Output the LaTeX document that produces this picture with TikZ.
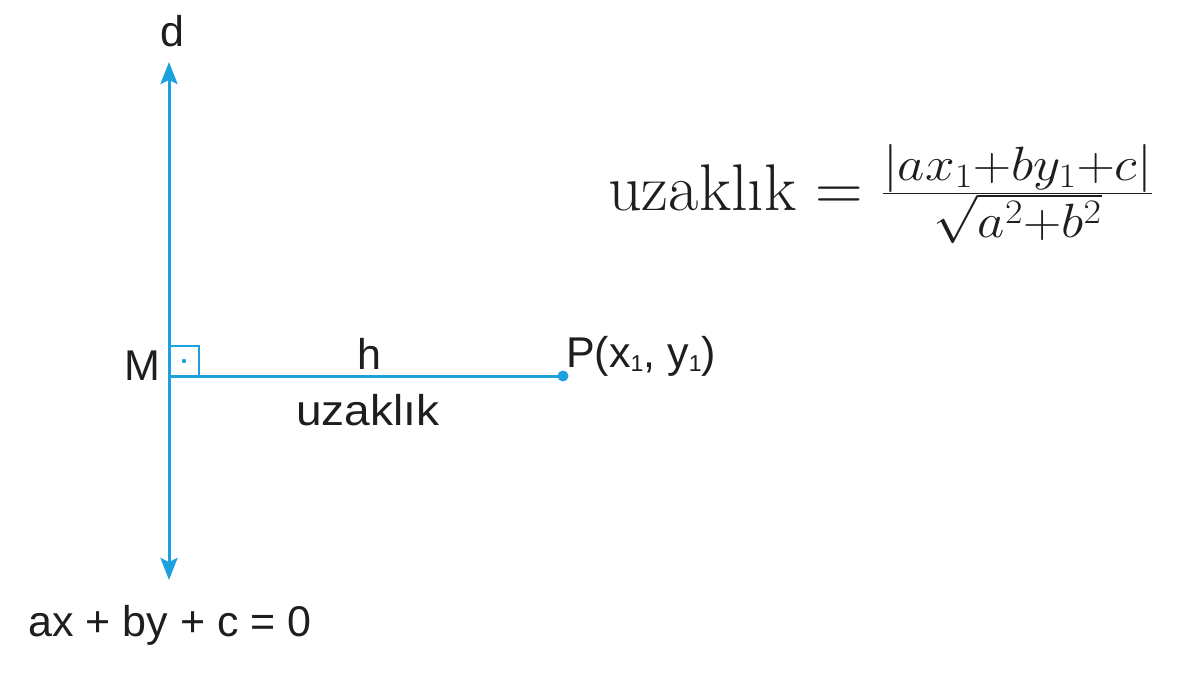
\RequirePackage{fix-cm}
\documentclass[tikz,border=0pt]{standalone}
\usepackage{graphicx}
\usepackage{fontspec}
\newfontfamily\sanslab{Liberation Sans}
\usetikzlibrary{arrows.meta}
\definecolor{lineblue}{RGB}{28,160,222}
\definecolor{txt}{RGB}{30,30,30}
\newcommand{\lowsub}[1]{\raisebox{-4pt}{\fontsize{23}{23}\selectfont #1}}
\begin{document}
\begin{tikzpicture}[x=1pt,y=-1pt,
  lab/.style={font=\sanslab\fontsize{43}{51}\selectfont, text=txt, inner sep=0pt},
  blueline/.style={draw=lineblue, line width=3pt},
  tip/.style={-{Stealth[length=22pt,width=17pt,inset=4pt]}}]
\useasboundingbox (0,0) rectangle (1200,675);
\coordinate (T) at (169,62);
\coordinate (B) at (169,580);
\coordinate (M) at (169,376);
\coordinate (P) at (563,376);
\coordinate (S1) at (199,346);
\draw[blueline, tip] (M) -- (T);
\draw[blueline, tip] (M) -- (B);
\draw[blueline] (M) -- (P);
\draw[draw=lineblue, line width=2pt] (M |- S1) -| (S1 |- M);
\fill[lineblue] (184,361) circle (2.2);
\fill[lineblue] (P) circle (5.5);
\node[lab, anchor=base] (d) at (172,46) {d};
\node[lab, anchor=base east] (Ml) at (161,380) {M};
\node[lab, anchor=base] (h) at (369,369) {h};
\node[lab, anchor=base, xscale=1.07] (u) at (368,425) {uzaklık};
\node[lab, anchor=base west] (Pl) at (566,367) {P(x\lowsub{1}, y\lowsub{1})};
\node[lab, anchor=base] (eq) at (170,636) {ax + by + c = 0};
\node[anchor=base west, inner sep=0pt, text=txt, font=\fontsize{66}{80}\selectfont] (f) at (608,210)
  {uzaklık $= \scalebox{1.15}[1.04]{$\frac{|ax_1+by_1+c|}{\sqrt{a^2+b^2}}$}$};
\end{tikzpicture}
\end{document}
